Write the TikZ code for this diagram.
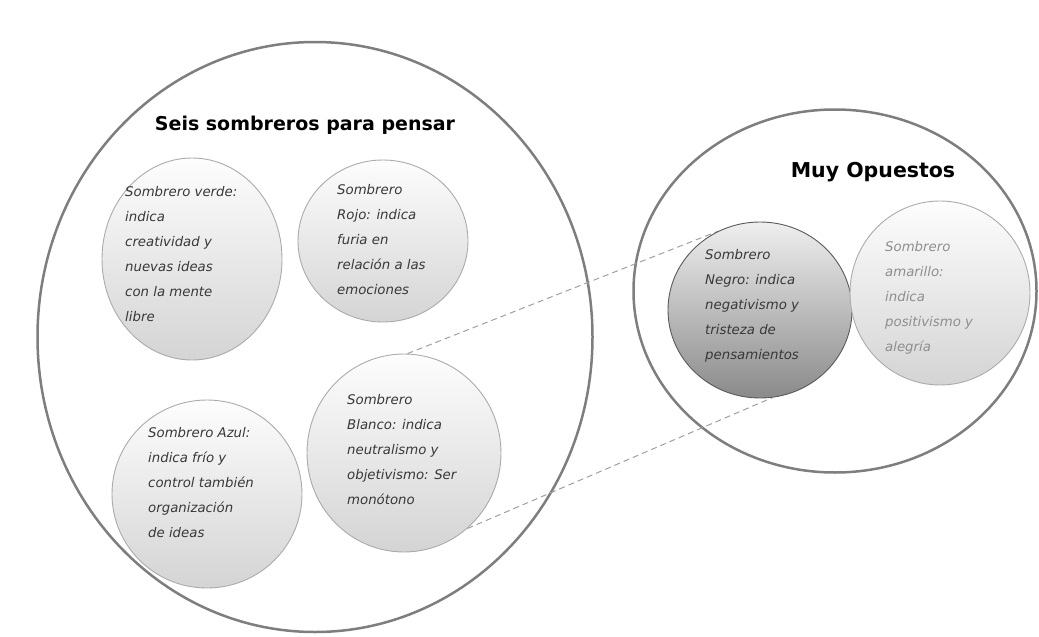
\documentclass[tikz,border=0pt]{standalone}
\usepackage{fontspec}
\setmainfont{DejaVu Sans}
\newfontfamily\titlefont{DejaVu Sans}
\usetikzlibrary{shapes.geometric}

\definecolor{rim}{HTML}{7E7E7E}
\definecolor{hatrim}{HTML}{ABABAB}
\definecolor{hattop}{HTML}{FDFDFD}
\definecolor{hatbot}{HTML}{D4D4D4}
\definecolor{darktop}{HTML}{EFEFEF}
\definecolor{darkbot}{HTML}{8A8A8A}
\definecolor{darkrim}{HTML}{5A5A5A}
\definecolor{hatink}{HTML}{383838}
\definecolor{paleink}{HTML}{8E8E8E}
\definecolor{linkgray}{HTML}{A0A0A0}

\tikzset{
  group/.style={ellipse, draw=rim, line width=2.5pt, inner sep=0pt},
  hat/.style={ellipse, draw=hatrim, line width=0.9pt, top color=hattop,
              bottom color=hatbot, inner sep=0pt},
  darkhat/.style={hat, draw=darkrim, top color=darktop, bottom color=darkbot},
  hattext/.style={anchor=north west, align=left, inner sep=0pt, text=hatink,
                  font=\itshape\fontsize{13.3}{25}\selectfont},
  heading/.style={font=\titlefont\bfseries\fontsize{19}{24}\selectfont, text=black},
  link/.style={draw=linkgray, line width=1pt, dash pattern=on 6pt off 4pt}
}

\begin{document}
\begin{tikzpicture}[x=1pt,y=-1pt]
  \useasboundingbox (0,0) rectangle (1039,637);

  % the two groups
  \node[group, minimum width=555pt, minimum height=590pt] (grpA) at (315,337) {};
  \node[group, minimum width=403pt, minimum height=363pt] (grpB) at (835,291) {};

  \node[heading] (titleA) at (305,125) {Seis sombreros para pensar};
  \node[heading, font=\titlefont\bfseries\fontsize{20.5}{24}\selectfont] (titleB) at (873,172) {Muy Opuestos};

  % hats (their size fixes the border anchors used by the zoom lines)
  \node[hat, minimum width=180pt, minimum height=202pt] (verde)    at (192,259) {};
  \node[hat, minimum width=170pt, minimum height=162pt] (rojo)     at (383,241) {};
  \node[hat, minimum width=190pt, minimum height=188pt] (azul)     at (207,494) {};
  \path node[hat, draw=none, fill=none, minimum width=194pt, minimum height=198pt] (blanco) at (404,453) {}
        node[hat, draw=none, fill=none, minimum width=184pt, minimum height=176pt] (negro)  at (760,310) {};

  % zoom lines between the white and the black hat
  \draw[link] (blanco.88) -- (negro.118);
  \draw[link] (blanco.-50) -- (negro.-82);

  \node[hat, minimum width=194pt, minimum height=198pt] (blancoFace) at (blanco.center) {};
  \node[darkhat, minimum width=184pt, minimum height=176pt] (negroFace) at (negro.center) {};
  \node[hat, minimum width=180pt, minimum height=184pt] (amarillo) at (940,293) {};

  % texts
  \node[hattext] (tVerde) at (125,186) {Sombrero verde:\\indica\\creatividad y\\nuevas ideas\\con la mente\\libre};
  \node[hattext] (tRojo) at (337,184) {Sombrero\\Rojo: indica\\furia en\\relación a las\\emociones};
  \node[hattext] (tAzul) at (148,427) {Sombrero Azul:\\indica frío y\\control también\\organización\\de ideas};
  \node[hattext] (tBlanco) at (347,394) {Sombrero\\Blanco: indica\\neutralismo y\\objetivismo: Ser\\monótono};
  \node[hattext] (tNegro) at (705,249) {Sombrero\\Negro: indica\\negativismo y\\tristeza de\\pensamientos};
  \node[hattext, text=paleink] (tAmarillo) at (885,241) {Sombrero\\amarillo:\\indica\\positivismo y\\alegría};
\end{tikzpicture}
\end{document}
